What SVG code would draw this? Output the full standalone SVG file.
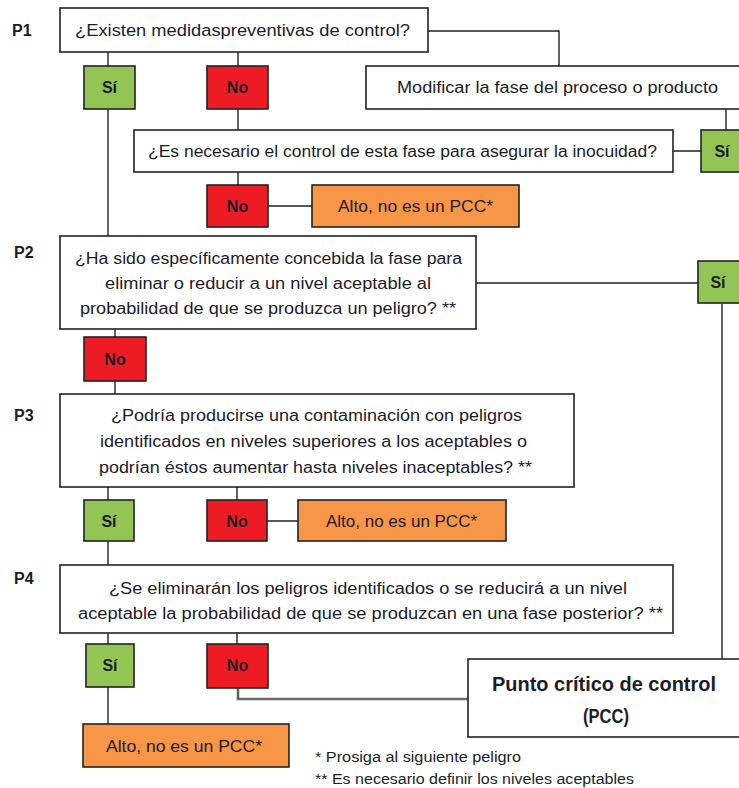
<svg xmlns="http://www.w3.org/2000/svg" width="739" height="788" viewBox="0 0 739 788">
<style>
text{font-family:"Liberation Sans",Arial,sans-serif;fill:#1c1c28;}
.q{font-size:16px;}
.lbl{font-size:16px;font-weight:bold;}
.yn{font-size:16px;font-weight:bold;text-anchor:middle;}
.box{fill:#ffffff;stroke:#222;stroke-width:1.6;}
.si{fill:#92c553;stroke:#222;stroke-width:1.6;}
.no{fill:#ed1c24;stroke:#222;stroke-width:1.6;}
.alto{fill:#f79646;stroke:#222;stroke-width:1.6;}
.c{fill:none;stroke:#222;stroke-width:1.4;}
.foot{font-size:14px;}
</style>
<rect width="739" height="788" fill="#ffffff"/>
<g id="connectors">
<path class="c" d="M108 52V66M238 52V66M428 31H559V66M238 109V130M726 109V130M673 151H701M238 172V185M268 206H312M108 109V236M476 283H698M722 304V659M115 329V337M115 381V394M108 487V500M237 487V500M267 521H298M108 541V565M108 633V644M237 633V644M108 687V724"/>
<path d="M238 688V699H468" fill="none" stroke="#aaa" stroke-width="3"/>
<path d="M238 688V699H468" fill="none" stroke="#333" stroke-width="1.2"/>
</g>
<g id="labels">
<text class="lbl" x="12" y="36">P1</text>
<text class="lbl" x="14" y="258">P2</text>
<text class="lbl" x="14" y="421">P3</text>
<text class="lbl" x="14" y="584">P4</text>
</g>
<g id="p1">
<rect class="box" x="60" y="8" width="368" height="44"/>
<text class="q" x="75" y="36" textLength="335" lengthAdjust="spacingAndGlyphs">¿Existen medidaspreventivas de control?</text>
</g>
<g id="p1-si"><rect class="si" x="84" y="66" width="51" height="43"/><text class="yn" x="109.5" y="93">Sí</text></g>
<g id="p1-no"><rect class="no" x="207" y="66" width="61" height="43"/><text class="yn" x="237.5" y="93">No</text></g>
<g id="modificar">
<rect class="box" x="366" y="66" width="380" height="43"/>
<text class="q" x="397" y="93" textLength="321" lengthAdjust="spacingAndGlyphs">Modificar la fase del proceso o producto</text>
</g>
<g id="necesario">
<rect class="box" x="134" y="130" width="539" height="42"/>
<text class="q" x="148" y="157" textLength="509" lengthAdjust="spacingAndGlyphs">¿Es necesario el control de esta fase para asegurar la inocuidad?</text>
</g>
<g id="necesario-si"><rect class="si" x="701" y="130" width="45" height="42"/><text class="yn" x="722" y="157">Sí</text></g>
<g id="necesario-no"><rect class="no" x="207" y="185" width="61" height="42"/><text class="yn" x="237.5" y="212">No</text></g>
<g id="alto1">
<rect class="alto" x="312" y="185" width="207" height="42"/>
<text class="q" x="338" y="212" textLength="155" lengthAdjust="spacingAndGlyphs">Alto, no es un PCC*</text>
</g>
<g id="p2">
<rect class="box" x="60" y="236" width="416" height="93"/>
<text class="q" x="75" y="264" textLength="387" lengthAdjust="spacingAndGlyphs">¿Ha sido específicamente concebida la fase para</text>
<text class="q" x="105" y="289" textLength="326" lengthAdjust="spacingAndGlyphs">eliminar o reducir a un nivel aceptable al</text>
<text class="q" x="80" y="314" textLength="376" lengthAdjust="spacingAndGlyphs">probabilidad de que se produzca un peligro? **</text>
</g>
<g id="p2-si"><rect class="si" x="698" y="261" width="48" height="42"/><text class="yn" x="718" y="288">Sí</text></g>
<g id="p2-no"><rect class="no" x="84" y="337" width="62" height="44"/><text class="yn" x="115" y="365">No</text></g>
<g id="p3">
<rect class="box" x="60" y="394" width="514" height="93"/>
<text class="q" x="111" y="421" textLength="411" lengthAdjust="spacingAndGlyphs">¿Podría producirse una contaminación con peligros</text>
<text class="q" x="100" y="447" textLength="427" lengthAdjust="spacingAndGlyphs">identificados en niveles superiores a los aceptables o</text>
<text class="q" x="99" y="473" textLength="433" lengthAdjust="spacingAndGlyphs">podrían éstos aumentar hasta niveles inaceptables? **</text>
</g>
<g id="p3-si"><rect class="si" x="84" y="500" width="50" height="41"/><text class="yn" x="109" y="527">Sí</text></g>
<g id="p3-no"><rect class="no" x="207" y="500" width="60" height="41"/><text class="yn" x="237" y="527">No</text></g>
<g id="alto3">
<rect class="alto" x="298" y="500" width="208" height="41"/>
<text class="q" x="326" y="527" textLength="151" lengthAdjust="spacingAndGlyphs">Alto, no es un PCC*</text>
</g>
<g id="p4">
<rect class="box" x="60" y="565" width="613" height="68"/>
<text class="q" x="109" y="594" textLength="518" lengthAdjust="spacingAndGlyphs">¿Se eliminarán los peligros identificados o se reducirá a un nivel</text>
<text class="q" x="78" y="619" textLength="585" lengthAdjust="spacingAndGlyphs">aceptable la probabilidad de que se produzcan en una fase posterior? **</text>
</g>
<g id="p4-si"><rect class="si" x="86" y="644" width="48" height="43"/><text class="yn" x="110" y="671">Sí</text></g>
<g id="p4-no"><rect class="no" x="207" y="644" width="61" height="44"/><text class="yn" x="237.5" y="671">No</text></g>
<g id="alto4">
<rect class="alto" x="83" y="724" width="206" height="43"/>
<text class="q" x="106" y="752" textLength="156" lengthAdjust="spacingAndGlyphs">Alto, no es un PCC*</text>
</g>
<g id="pcc">
<rect class="box" x="468" y="659" width="280" height="78"/>
<text x="492" y="691" font-size="21" font-weight="bold" textLength="224" lengthAdjust="spacingAndGlyphs">Punto crítico de control</text>
<text x="583" y="723" font-size="21" font-weight="bold" textLength="46" lengthAdjust="spacingAndGlyphs">(PCC)</text>
</g>
<g id="notes">
<text class="foot" x="315" y="762" textLength="206" lengthAdjust="spacingAndGlyphs">* Prosiga al siguiente peligro</text>
<text class="foot" x="315" y="784" textLength="319" lengthAdjust="spacingAndGlyphs">** Es necesario definir los niveles aceptables</text>
</g>
</svg>
